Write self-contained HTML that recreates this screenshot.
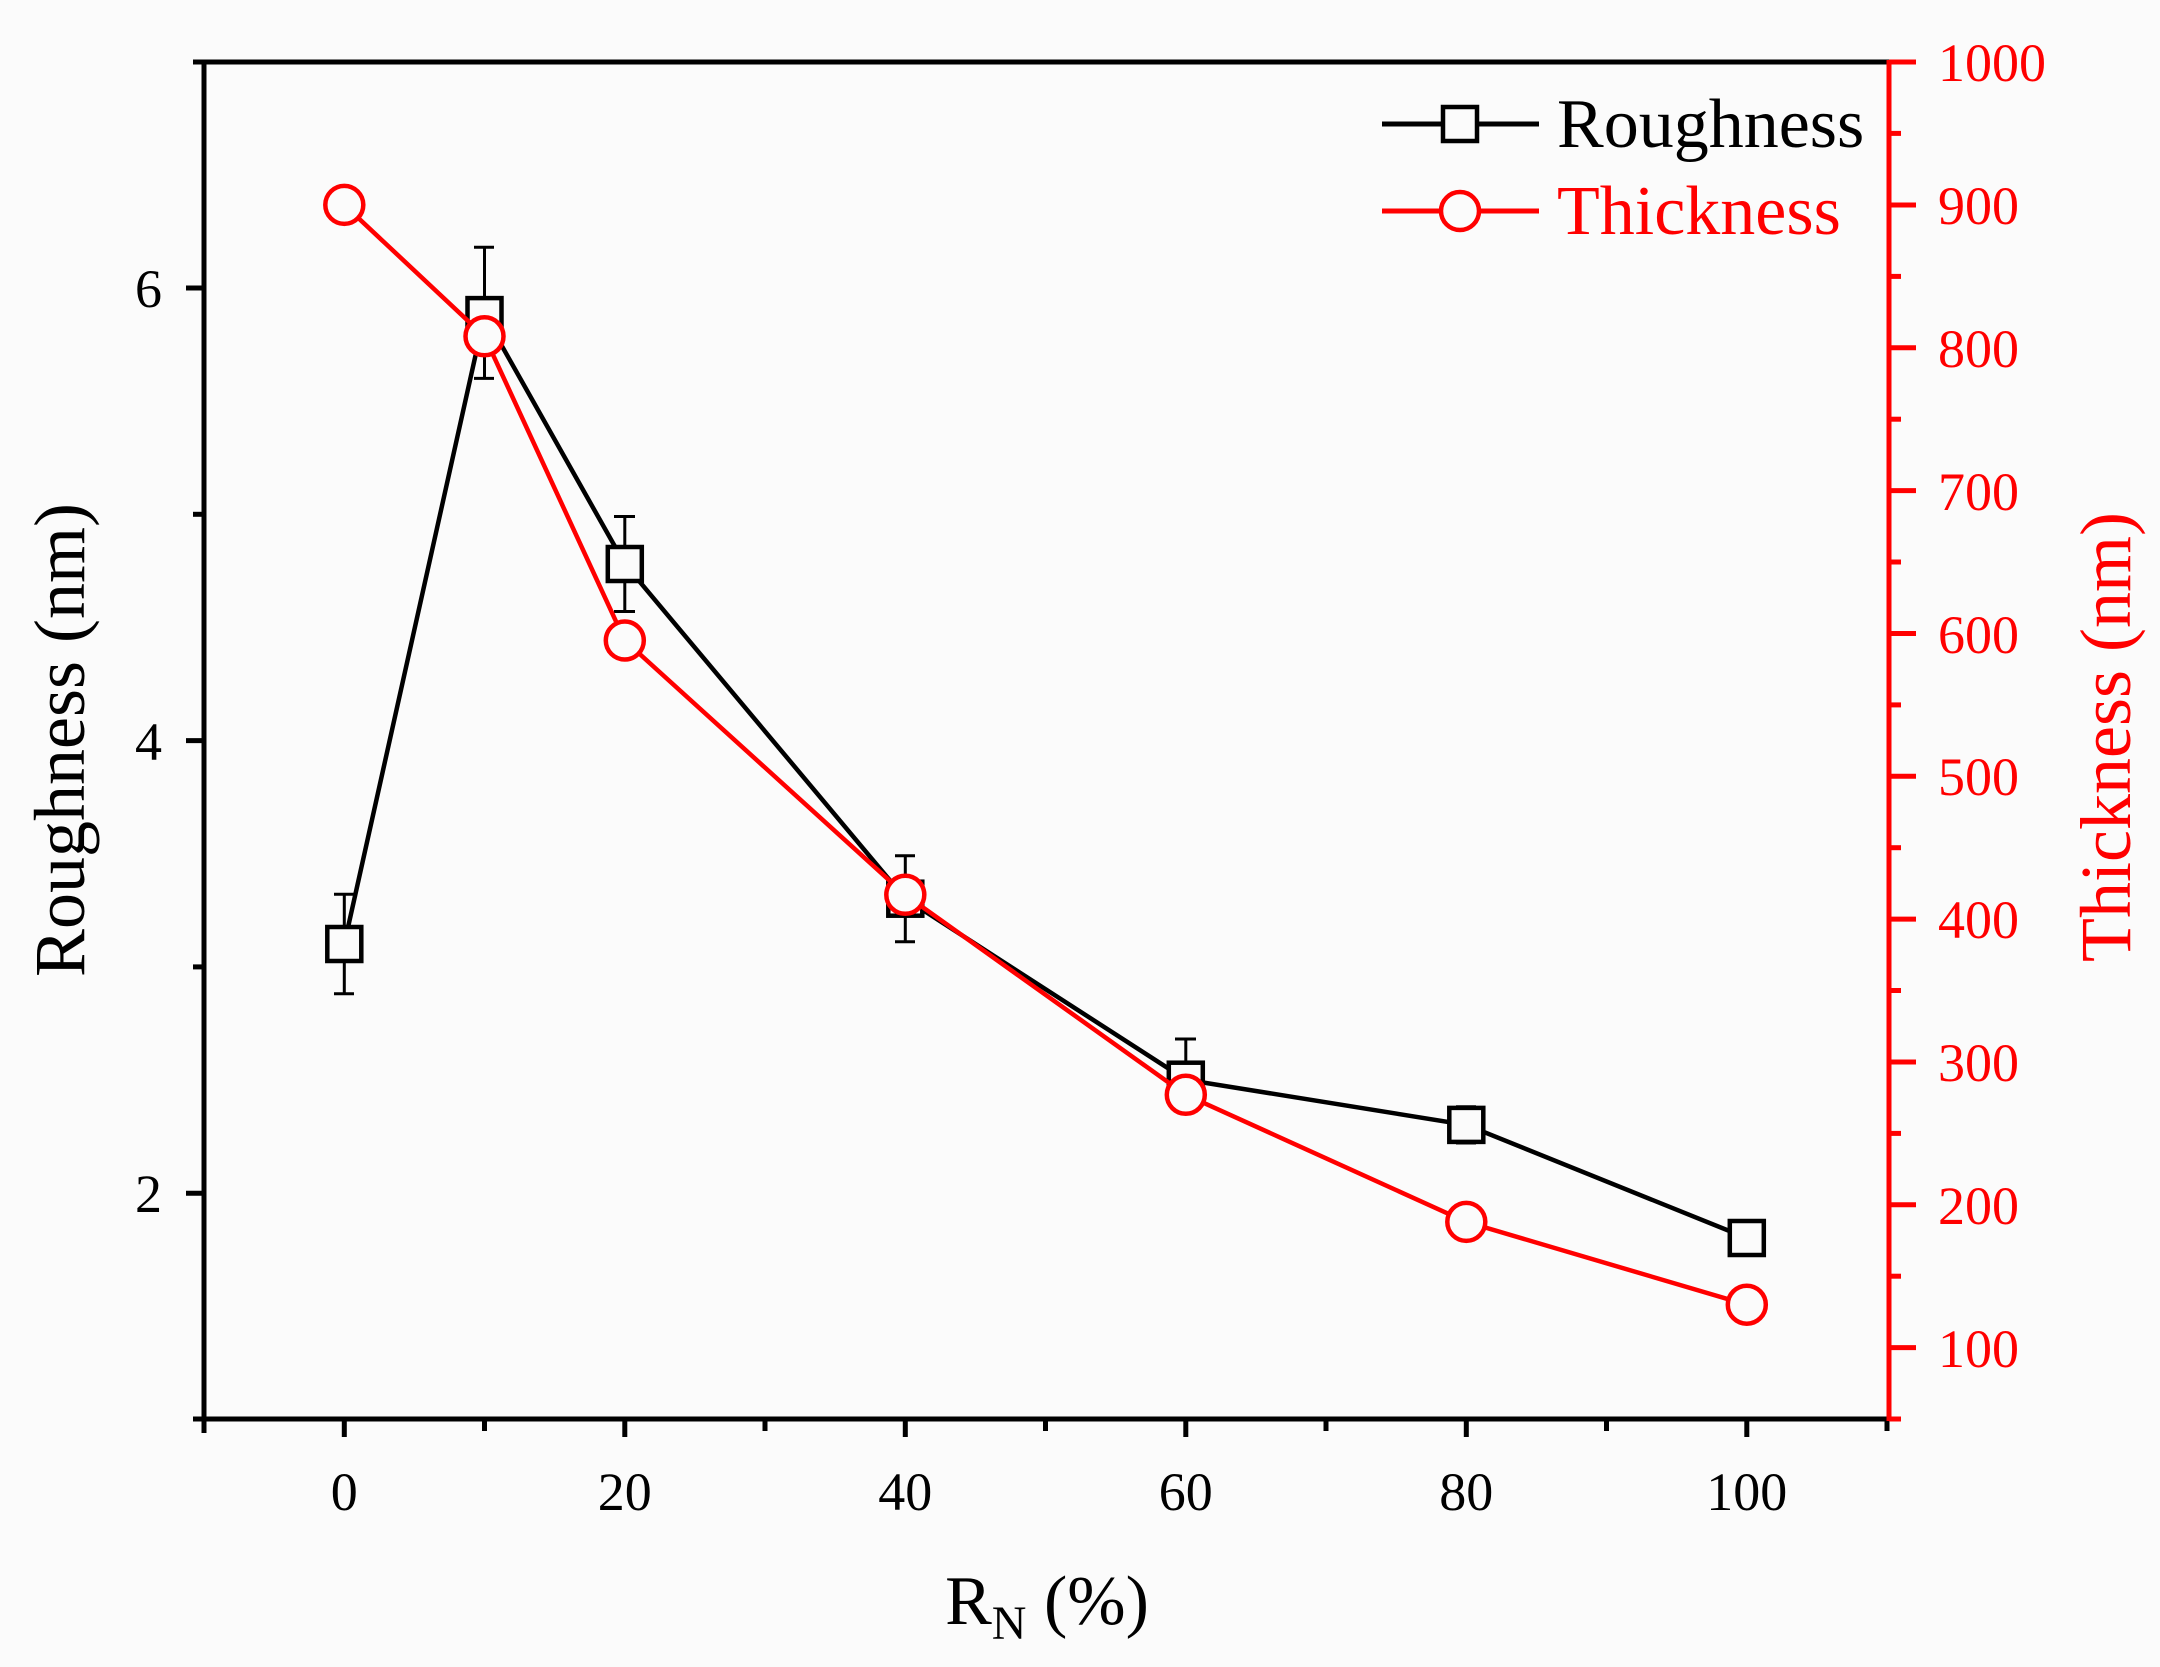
<!DOCTYPE html>
<html><head><meta charset="utf-8"><style>html,body{margin:0;padding:0;background:#fbfbfb}svg{display:block}</style></head>
<body>
<svg width="2160" height="1667" viewBox="0 0 2160 1667" xmlns="http://www.w3.org/2000/svg" font-family="Liberation Serif, serif">
<rect width="2160" height="1667" fill="#fbfbfb"/>
<g stroke="#000" stroke-width="5" fill="none">
<line x1="204" y1="62" x2="1889" y2="62"/>
<line x1="204" y1="60" x2="204" y2="1421"/>
<line x1="202" y1="1419" x2="1889" y2="1419"/>
<line x1="186" y1="288.0" x2="204" y2="288.0"/>
<line x1="186" y1="740.6" x2="204" y2="740.6"/>
<line x1="186" y1="1193.2" x2="204" y2="1193.2"/>
<line x1="193" y1="62" x2="204" y2="62"/>
<line x1="193" y1="514.3" x2="204" y2="514.3"/>
<line x1="193" y1="966.9" x2="204" y2="966.9"/>
<line x1="193" y1="1419" x2="204" y2="1419"/>
<line x1="204" y1="1419" x2="204" y2="1433"/>
<line x1="344.3" y1="1419" x2="344.3" y2="1437"/>
<line x1="484.5" y1="1419" x2="484.5" y2="1431"/>
<line x1="624.8" y1="1419" x2="624.8" y2="1437"/>
<line x1="765" y1="1419" x2="765" y2="1431"/>
<line x1="905.3" y1="1419" x2="905.3" y2="1437"/>
<line x1="1045.5" y1="1419" x2="1045.5" y2="1431"/>
<line x1="1185.8" y1="1419" x2="1185.8" y2="1437"/>
<line x1="1326" y1="1419" x2="1326" y2="1431"/>
<line x1="1466.3" y1="1419" x2="1466.3" y2="1437"/>
<line x1="1606.5" y1="1419" x2="1606.5" y2="1431"/>
<line x1="1746.8" y1="1419" x2="1746.8" y2="1437"/>
<line x1="1887" y1="1419" x2="1887" y2="1431"/>
</g>
<g stroke="#f00" stroke-width="5" fill="none">
<line x1="1889" y1="60" x2="1889" y2="1421"/>
<line x1="1889" y1="62" x2="1916" y2="62"/>
<line x1="1889" y1="205" x2="1916" y2="205"/>
<line x1="1889" y1="347.8" x2="1916" y2="347.8"/>
<line x1="1889" y1="490.6" x2="1916" y2="490.6"/>
<line x1="1889" y1="633.5" x2="1916" y2="633.5"/>
<line x1="1889" y1="776.3" x2="1916" y2="776.3"/>
<line x1="1889" y1="919.1" x2="1916" y2="919.1"/>
<line x1="1889" y1="1062" x2="1916" y2="1062"/>
<line x1="1889" y1="1204.8" x2="1916" y2="1204.8"/>
<line x1="1889" y1="1347.6" x2="1916" y2="1347.6"/>
<line x1="1889" y1="133.4" x2="1901" y2="133.4"/>
<line x1="1889" y1="276.4" x2="1901" y2="276.4"/>
<line x1="1889" y1="419.2" x2="1901" y2="419.2"/>
<line x1="1889" y1="562" x2="1901" y2="562"/>
<line x1="1889" y1="704.9" x2="1901" y2="704.9"/>
<line x1="1889" y1="847.7" x2="1901" y2="847.7"/>
<line x1="1889" y1="990.5" x2="1901" y2="990.5"/>
<line x1="1889" y1="1133.4" x2="1901" y2="1133.4"/>
<line x1="1889" y1="1276.2" x2="1901" y2="1276.2"/>
<line x1="1889" y1="1419" x2="1901" y2="1419"/>
</g>
<g font-size="54" fill="#000" text-anchor="end">
<text x="162" y="307">6</text>
<text x="162" y="760">4</text>
<text x="162" y="1212">2</text>
</g>
<g font-size="54" fill="#f00">
<text x="1938" y="81">1000</text>
<text x="1938" y="224">900</text>
<text x="1938" y="367">800</text>
<text x="1938" y="510">700</text>
<text x="1938" y="653">600</text>
<text x="1938" y="795">500</text>
<text x="1938" y="938">400</text>
<text x="1938" y="1081">300</text>
<text x="1938" y="1224">200</text>
<text x="1938" y="1367">100</text>
</g>
<g font-size="54" fill="#000" text-anchor="middle">
<text x="344.3" y="1510">0</text>
<text x="624.8" y="1510">20</text>
<text x="905.3" y="1510">40</text>
<text x="1185.8" y="1510">60</text>
<text x="1466.3" y="1510">80</text>
<text x="1746.8" y="1510">100</text>
</g>
<text x="1047" y="1624" font-size="70" text-anchor="middle">R<tspan font-size="48" dy="15">N</tspan><tspan dy="-15"> (%)</tspan></text>
<text transform="translate(84,740) rotate(-90)" font-size="72" text-anchor="middle">Roughness (nm)</text>
<text transform="translate(2130,737) rotate(-90)" font-size="72" fill="#f00" text-anchor="middle">Thickness (nm)</text>
<g stroke="#000" stroke-width="4.5" fill="none">
<polyline points="344.3,944 484.5,315.1 624.8,564 905.3,898.7 1185.8,1079.7 1466.3,1124.9 1746.8,1238"/>
<g stroke-width="3">
<line x1="344.3" y1="894.3" x2="344.3" y2="993.8"/><line x1="334" y1="894.3" x2="354" y2="894.3"/><line x1="334" y1="993.8" x2="354" y2="993.8"/>
<line x1="484.5" y1="247.3" x2="484.5" y2="378.4"/><line x1="474" y1="247.3" x2="494" y2="247.3"/><line x1="474" y1="378.4" x2="494" y2="378.4"/>
<line x1="624.8" y1="516.5" x2="624.8" y2="611.5"/><line x1="614" y1="516.5" x2="635" y2="516.5"/><line x1="614" y1="611.5" x2="635" y2="611.5"/>
<line x1="905.3" y1="855.8" x2="905.3" y2="941.7"/><line x1="895" y1="855.8" x2="915" y2="855.8"/><line x1="895" y1="941.7" x2="915" y2="941.7"/>
<line x1="1185.8" y1="1039" x2="1185.8" y2="1109"/><line x1="1175" y1="1039" x2="1196" y2="1039"/><line x1="1175" y1="1109" x2="1196" y2="1109"/>
<line x1="1466.3" y1="1106.8" x2="1466.3" y2="1143"/><line x1="1456" y1="1106.8" x2="1476" y2="1106.8"/><line x1="1456" y1="1143" x2="1476" y2="1143"/>
</g>
<g fill="#fbfbfb" stroke-width="4.5">
<rect x="327.3" y="927" width="34" height="34"/>
<rect x="467.5" y="298.1" width="34" height="34"/>
<rect x="607.8" y="547" width="34" height="34"/>
<rect x="888.3" y="881.7" width="34" height="34"/>
<rect x="1168.8" y="1062.7" width="34" height="34"/>
<rect x="1449.3" y="1107.9" width="34" height="34"/>
<rect x="1729.8" y="1221" width="34" height="34"/>
</g>
</g>
<g stroke="#f00" stroke-width="4.5" fill="none">
<polyline points="344.3,204.9 484.5,336.3 624.8,640.5 905.3,894.8 1185.8,1094.8 1466.3,1221.9 1746.8,1304.7"/>
<g fill="#fbfbfb">
<circle cx="344.3" cy="204.9" r="19"/>
<circle cx="484.5" cy="336.3" r="19"/>
<circle cx="624.8" cy="640.5" r="19"/>
<circle cx="905.3" cy="894.8" r="19"/>
<circle cx="1185.8" cy="1094.8" r="19"/>
<circle cx="1466.3" cy="1221.9" r="19"/>
<circle cx="1746.8" cy="1304.7" r="19"/>
</g>
</g>
<g stroke="#000" stroke-width="5" fill="none">
<line x1="1382" y1="124" x2="1539" y2="124"/>
<rect x="1443" y="107" width="34" height="34" fill="#fbfbfb" stroke-width="4.5"/>
</g>
<g stroke="#f00" stroke-width="5" fill="none">
<line x1="1382" y1="211" x2="1539" y2="211"/>
<circle cx="1460" cy="211" r="19" fill="#fbfbfb" stroke-width="4.5"/>
</g>
<text x="1557" y="147" font-size="70" fill="#000">Roughness</text>
<text x="1557" y="234" font-size="70" fill="#f00">Thickness</text>
</svg>
</body></html>
